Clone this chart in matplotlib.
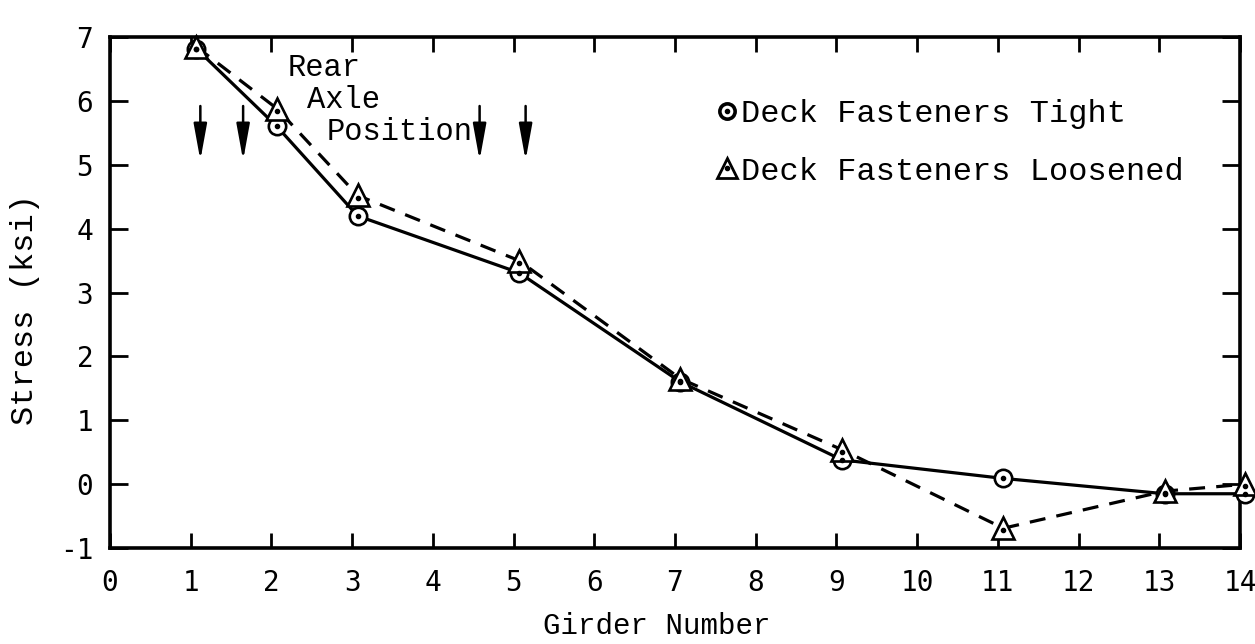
#!/usr/bin/env python3
"""Girder stress vs girder number, deck fasteners tight vs loosened."""

import matplotlib
matplotlib.use("Agg")
import matplotlib.pyplot as plt
import matplotlib.transforms as mtransforms
from matplotlib.lines import Line2D

# --- data ---
girders = [1, 2, 3, 5, 7, 9, 11, 13, 14]
stress_tight = [6.82, 5.6, 4.2, 3.31, 1.6, 0.38, 0.09, -0.15, -0.15]
stress_loose = [6.85, 5.88, 4.52, 3.5, 1.65, 0.54, -0.69, -0.11, 0.0]
axle_positions = [1.12, 1.65, 4.58, 5.15]
x_ticks = list(range(0, 15))
y_ticks = list(range(-1, 8))

label_tight = "Deck Fasteners Tight"
label_loose = "Deck Fasteners Loosened"

MONO = "Liberation Mono"

plt.rcParams["axes.unicode_minus"] = False

fig = plt.figure(figsize=(12.55, 6.44), dpi=100)
ax = fig.add_axes([0.0876, 0.149, 0.9004, 0.7935])

# markers sit a touch right of the tick marks in the original drawing
shift = mtransforms.offset_copy(ax.transData, fig=fig, x=4, y=0, units="points")
shift_tri_dot = mtransforms.offset_copy(ax.transData, fig=fig, x=4, y=-1.5, units="points")

ax.plot(girders, stress_tight, color="black", lw=2.3, marker="o", ms=12.5,
        mfc="white", mec="black", mew=1.9, transform=shift, zorder=3, clip_on=False)
ax.plot(girders, stress_loose, color="black", lw=2.3, dashes=(5, 3.5), marker="^",
        ms=16, mfc="white", mec="black", mew=1.9, transform=shift, zorder=4, clip_on=False)
ax.plot(girders, stress_tight, ls="none", marker="o", ms=3, color="black",
        transform=shift, zorder=5, clip_on=False)
ax.plot(girders, stress_loose, ls="none", marker="o", ms=3, color="black",
        transform=shift_tri_dot, zorder=5, clip_on=False)

# rear axle arrows + label
for xa in axle_positions:
    ax.annotate("", xy=(xa, 5.07), xytext=(xa, 5.92),
                arrowprops=dict(arrowstyle="-|>,head_length=1.1,head_width=0.2",
                                mutation_scale=20, lw=1.8, color="black",
                                shrinkA=0, shrinkB=0))
ax.text(2.2, 6.52, "Rear", family=MONO, fontsize=22, ha="left", va="center")
ax.text(2.44, 6.02, "Axle", family=MONO, fontsize=22, ha="left", va="center")
ax.text(2.69, 5.51, "Position", family=MONO, fontsize=22, ha="left", va="center")

# legend: markers only, dot inside
h_tight = (Line2D([], [], ls="none", marker="o", ms=11, mfc="white", mec="black", mew=2.6),
           Line2D([], [], ls="none", marker="o", ms=3, color="black"))
h_loose = (Line2D([], [], ls="none", marker="^", ms=15, mfc="white", mec="black", mew=2.0),
           Line2D([], [], ls="none", marker="o", ms=3, color="black"))
ax.legend([h_tight, h_loose], [label_tight, label_loose], loc="upper left",
          bbox_to_anchor=(0.5376, 0.878), frameon=False, borderpad=0, borderaxespad=0,
          handlelength=0.6, handletextpad=0.15, labelspacing=0.85,
          prop=dict(family=MONO, size=23))

ax.set_xlim(0, 14)
ax.set_ylim(-1, 7)
ax.set_xticks(x_ticks)
ax.set_yticks(y_ticks)

for s in ax.spines.values():
    s.set_linewidth(2.6)
ax.tick_params(axis="both", direction="in", width=2, top=True, right=True,
               labelsize=20, labelfontfamily="DejaVu Sans Mono")
ax.tick_params(axis="x", length=11, pad=15)
ax.tick_params(axis="y", length=13, pad=12)

ax.set_xlabel("Girder Number", family=MONO, fontsize=21)
ax.set_ylabel("Stress (ksi)", family=MONO, fontsize=23)
ax.xaxis.set_label_coords(0.484, -0.125)
ax.yaxis.set_label_coords(-0.062, 0.466)

fig.savefig("out.png", dpi=100)
plt.close(fig)
